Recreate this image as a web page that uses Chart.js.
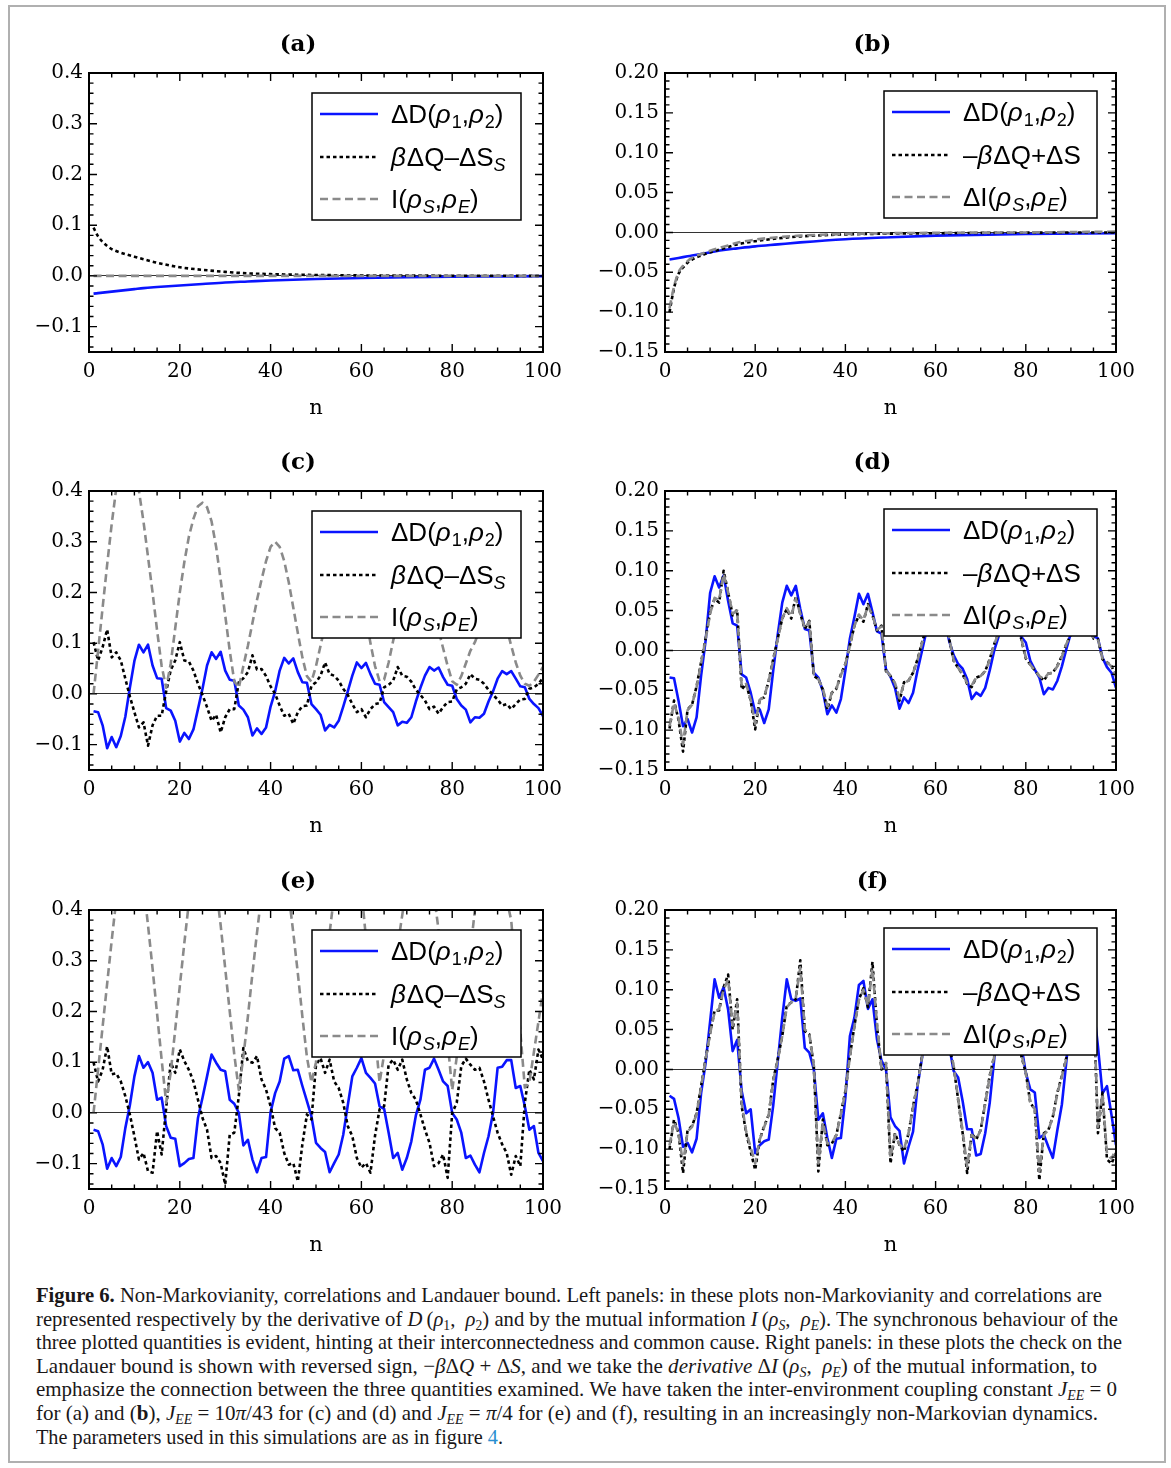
<!DOCTYPE html>
<html>
<head>
<meta charset="utf-8">
<script src="https://cdn.jsdelivr.net/npm/chart.js@4.4.1/dist/chart.umd.min.js"></script>
<style>
  body { margin: 0; background: #fff; width: 1171px; height: 1468px; position: relative; overflow: hidden; }
  .page-frame { position: absolute; left: 8px; top: 5px; width: 1158px; height: 1458px; border: 2px solid #b0b0b0; box-sizing: border-box; }
  canvas { position: absolute; }
  #caption { position: absolute; left: 36px; top: 1284px; font-family: "Liberation Serif", serif; font-size: 21px; line-height: 23.6px; color: #1a1718; }
  #caption .ln { height: 23.6px; white-space: nowrap; }
  #caption .ln span.fit { display: inline-block; white-space: nowrap; transform-origin: 0 50%; }
  #caption sub { font-size: 0.66em; vertical-align: -0.28em; line-height: 0; }
  #caption .link { color: #2a8fd0; }
</style>
</head>
<body>
<div class="page-frame"></div>
<canvas id="pa" width="590" height="428" style="left:0;top:0"></canvas>
<canvas id="pb" width="581" height="428" style="left:590px;top:0"></canvas>
<canvas id="pc" width="590" height="428" style="left:0;top:418px"></canvas>
<canvas id="pd" width="581" height="428" style="left:590px;top:418px"></canvas>
<canvas id="pe" width="590" height="428" style="left:0;top:837px"></canvas>
<canvas id="pf" width="581" height="428" style="left:590px;top:837px"></canvas>

<div id="caption">
  <div class="ln"><span class="fit" data-w="1066"><b>Figure 6.</b> Non-Markovianity, correlations and Landauer bound. Left panels: in these plots non-Markovianity and correlations are</span></div>
  <div class="ln"><span class="fit" data-w="1082">represented respectively by the derivative of <i>D</i>&#8201;(<i>ρ</i><sub>1</sub>,&#8194;<i>ρ</i><sub>2</sub>) and by the mutual information <i>I</i>&#8201;(<i>ρ</i><sub><i>S</i></sub>,&#8194;<i>ρ</i><sub><i>E</i></sub>). The synchronous behaviour of the</span></div>
  <div class="ln"><span class="fit" data-w="1086">three plotted quantities is evident, hinting at their interconnectedness and common cause. Right panels: in these plots the check on the</span></div>
  <div class="ln"><span class="fit" data-w="1061">Landauer bound is shown with reversed sign, &#8722;<i>β</i>Δ<i>Q</i> + Δ<i>S</i>, and we take the <i>derivative</i> Δ<i>I</i>&#8201;(<i>ρ</i><sub><i>S</i></sub>,&#8194;<i>ρ</i><sub><i>E</i></sub>) of the mutual information, to</span></div>
  <div class="ln"><span class="fit" data-w="1081">emphasize the connection between the three quantities examined. We have taken the inter-environment coupling constant <i>J</i><sub><i>EE</i></sub> = 0</span></div>
  <div class="ln"><span class="fit" data-w="1062">for (a) and (<b>b</b>), <i>J</i><sub><i>EE</i></sub> = 10<i>π</i>/43 for (c) and (d) and <i>J</i><sub><i>EE</i></sub> = <i>π</i>/4 for (e) and (f), resulting in an increasingly non-Markovian dynamics.</span></div>
  <div class="ln"><span class="fit" data-w="467">The parameters used in this simulations are as in figure <span class="link">4</span>.</span></div>
</div>

<script>
// ---- axis ticks ----
const xTicks = [0, 20, 40, 60, 80, 100];
const xTickLabels = ['0', '20', '40', '60', '80', '100'];
const leftYTicks = [-0.1, 0, 0.1, 0.2, 0.3, 0.4];
const leftYLabels = ['\u22120.1', '0.0', '0.1', '0.2', '0.3', '0.4'];
const rightYTicks = [-0.15, -0.1, -0.05, 0, 0.05, 0.1, 0.15, 0.2];
const rightYLabels = ['\u22120.15', '\u22120.10', '\u22120.05', '0.00', '0.05', '0.10', '0.15', '0.20'];

// step index n for the oscillating panels
const nSteps = Array.from({length: 100}, (_, i) => i + 1);

// ---- (a) J_EE = 0 ----
const aN = [1, 2, 3, 4, 5, 6, 8, 10, 12, 15, 20, 25, 30, 35, 40, 50, 60, 70, 80, 90, 100];
const aDistance = [-0.035, -0.034, -0.033, -0.032, -0.031, -0.030, -0.028, -0.026, -0.024, -0.022, -0.019, -0.016, -0.013, -0.011, -0.009, -0.006, -0.004, -0.0025, -0.0015, -0.001, -0.0005];
const aLandauer = [0.095, 0.078, 0.067, 0.059, 0.053, 0.049, 0.043, 0.038, 0.033, 0.026, 0.017, 0.012, 0.008, 0.005, 0.0035, 0.0018, 0.001, 0.0006, 0.0004, 0.0002, 0.0001];
const aMutual = [0, 0, 0, 0, 0, 0, 0, 0, 0, 0, 0, 0, 0, 0, 0, 0, 0, 0, 0, 0, 0];

// ---- (b) J_EE = 0 ----
const bN = [1, 2, 3, 4, 5, 6, 8, 10, 13, 16, 20, 25, 30, 40, 50, 60, 80, 100];
const bDistance = [-0.034, -0.033, -0.032, -0.031, -0.030, -0.029, -0.027, -0.025, -0.022, -0.020, -0.0175, -0.015, -0.0125, -0.0085, -0.006, -0.004, -0.002, -0.001];
const bLandauer = [-0.100, -0.070, -0.052, -0.044, -0.038, -0.034, -0.029, -0.025, -0.020, -0.015, -0.011, -0.0075, -0.005, -0.0025, -0.0015, -0.001, -0.0003, 0.0];
const bMutual = [-0.095, -0.068, -0.050, -0.042, -0.036, -0.032, -0.027, -0.023, -0.018, -0.013, -0.009, -0.006, -0.004, -0.002, -0.001, -0.0005, 0.0, 0.001];

// ---- (c) J_EE = 10pi/43 ----
const cDistance = [-0.034, -0.036, -0.062, -0.107, -0.085, -0.105, -0.083, -0.045, 0.012, 0.065,
  0.097, 0.082, 0.097, 0.056, 0.031, 0.030, -0.028, -0.033, -0.053, -0.094,
  -0.077, -0.089, -0.070, -0.030, 0.010, 0.056, 0.082, 0.069, 0.083, 0.046,
  0.028, 0.026, -0.023, -0.031, -0.046, -0.082, -0.068, -0.079, -0.066, -0.025,
  0.005, 0.046, 0.071, 0.060, 0.070, 0.043, 0.023, 0.022, -0.020, -0.030,
  -0.041, -0.072, -0.061, -0.066, -0.053, -0.025, 0.005, 0.036, 0.062, 0.051,
  0.061, 0.039, 0.020, 0.018, -0.016, -0.026, -0.036, -0.062, -0.055, -0.057,
  -0.046, -0.015, 0.012, 0.036, 0.053, 0.046, 0.052, 0.033, 0.018, 0.016,
  -0.010, -0.023, -0.031, -0.056, -0.046, -0.047, -0.039, -0.015, 0.005, 0.030,
  0.045, 0.039, 0.045, 0.030, 0.015, 0.013, -0.010, -0.020, -0.028, -0.044];
const cLandauer = [0.102, 0.066, 0.092, 0.127, 0.072, 0.082, 0.066, 0.030, -0.005, -0.036,
  -0.066, -0.056, -0.102, -0.062, -0.043, -0.043, 0.005, 0.047, 0.066, 0.102,
  0.066, 0.064, 0.046, 0.020, -0.002, -0.026, -0.053, -0.041, -0.076, -0.046,
  -0.030, -0.030, 0.023, 0.031, 0.043, 0.076, 0.048, 0.049, 0.035, 0.015,
  0.000, -0.023, -0.043, -0.039, -0.059, -0.036, -0.024, -0.023, 0.016, 0.023,
  0.036, 0.062, 0.039, 0.036, 0.026, 0.010, -0.002, -0.020, -0.036, -0.030,
  -0.046, -0.030, -0.020, -0.018, 0.013, 0.018, 0.026, 0.053, 0.036, 0.034,
  0.024, 0.008, -0.002, -0.013, -0.030, -0.025, -0.039, -0.026, -0.016, -0.015,
  0.009, 0.013, 0.020, 0.039, 0.030, 0.028, 0.020, 0.008, -0.002, -0.011,
  -0.023, -0.020, -0.030, -0.020, -0.011, -0.010, 0.010, 0.013, 0.020, 0.031];
const cMutual = [0.000, 0.085, 0.170, 0.255, 0.335, 0.405, 0.450, 0.470, 0.465, 0.440,
  0.400, 0.340, 0.270, 0.200, 0.125, 0.055, 0.012, 0.060, 0.130, 0.200,
  0.260, 0.310, 0.345, 0.370, 0.377, 0.368, 0.340, 0.290, 0.225, 0.155,
  0.085, 0.025, 0.012, 0.055, 0.095, 0.140, 0.185, 0.225, 0.262, 0.290,
  0.300, 0.290, 0.262, 0.220, 0.170, 0.120, 0.072, 0.035, 0.024, 0.055,
  0.095, 0.135, 0.170, 0.200, 0.222, 0.238, 0.245, 0.240, 0.222, 0.192,
  0.150, 0.100, 0.055, 0.025, 0.028, 0.062, 0.105, 0.140, 0.168, 0.188,
  0.200, 0.206, 0.205, 0.198, 0.185, 0.160, 0.125, 0.090, 0.055, 0.025,
  0.018, 0.035, 0.060, 0.085, 0.102, 0.125, 0.145, 0.160, 0.168, 0.166,
  0.155, 0.130, 0.095, 0.062, 0.036, 0.020, 0.016, 0.024, 0.038, 0.053];

// ---- (d) J_EE = 10pi/43 ----
const dDistance = [-0.034, -0.035, -0.063, -0.095, -0.086, -0.103, -0.084, -0.032, 0.012, 0.072,
  0.093, 0.079, 0.094, 0.062, 0.034, 0.031, -0.030, -0.034, -0.053, -0.078,
  -0.074, -0.091, -0.074, -0.025, 0.020, 0.060, 0.081, 0.069, 0.081, 0.052,
  0.027, 0.025, -0.028, -0.034, -0.051, -0.080, -0.069, -0.078, -0.061, -0.025,
  0.015, 0.042, 0.071, 0.058, 0.071, 0.048, 0.024, 0.021, -0.024, -0.033,
  -0.047, -0.073, -0.059, -0.066, -0.053, -0.025, 0.000, 0.025, 0.058, 0.052,
  0.060, 0.040, 0.012, -0.006, -0.017, -0.023, -0.036, -0.061, -0.053, -0.057,
  -0.047, -0.025, 0.000, 0.018, 0.052, 0.045, 0.053, 0.032, 0.017, 0.010,
  -0.013, -0.024, -0.034, -0.055, -0.047, -0.049, -0.038, -0.020, 0.002, 0.022,
  0.045, 0.040, 0.045, 0.030, 0.018, 0.015, -0.009, -0.021, -0.028, -0.047];
const dLandauer = [-0.098, -0.063, -0.087, -0.127, -0.074, -0.068, -0.045, -0.015, 0.015, 0.048,
  0.065, 0.060, 0.100, 0.073, 0.044, 0.051, -0.049, -0.042, -0.063, -0.099,
  -0.061, -0.059, -0.038, -0.011, 0.015, 0.040, 0.052, 0.040, 0.068, 0.046,
  0.027, 0.037, -0.032, -0.036, -0.049, -0.074, -0.053, -0.048, -0.030, -0.017,
  0.006, 0.031, 0.044, 0.036, 0.058, 0.044, 0.025, 0.031, -0.026, -0.032,
  -0.042, -0.063, -0.040, -0.038, -0.028, -0.011, 0.010, 0.030, 0.045, 0.040,
  0.055, 0.040, 0.015, -0.013, -0.022, -0.030, -0.042, -0.046, -0.034, -0.032,
  -0.026, -0.011, 0.008, 0.022, 0.035, 0.032, 0.045, 0.035, 0.014, -0.010,
  -0.018, -0.025, -0.032, -0.038, -0.029, -0.028, -0.019, -0.007, 0.008, 0.020,
  0.032, 0.030, 0.040, 0.030, 0.015, 0.014, -0.011, -0.015, -0.019, -0.034];
const dMutual = [-0.095, -0.066, -0.085, -0.118, -0.075, -0.068, -0.046, -0.016, 0.014, 0.046,
  0.066, 0.063, 0.096, 0.073, 0.046, 0.050, -0.045, -0.042, -0.062, -0.092,
  -0.062, -0.058, -0.038, -0.012, 0.014, 0.040, 0.053, 0.043, 0.065, 0.046,
  0.028, 0.036, -0.030, -0.036, -0.048, -0.070, -0.053, -0.048, -0.031, -0.017,
  0.006, 0.031, 0.045, 0.038, 0.056, 0.044, 0.026, 0.030, -0.025, -0.032,
  -0.041, -0.060, -0.041, -0.038, -0.028, -0.012, 0.009, 0.030, 0.045, 0.041,
  0.053, 0.040, 0.016, -0.012, -0.022, -0.029, -0.041, -0.044, -0.034, -0.032,
  -0.026, -0.012, 0.008, 0.022, 0.035, 0.033, 0.044, 0.035, 0.015, -0.009,
  -0.018, -0.025, -0.032, -0.036, -0.029, -0.028, -0.020, -0.008, 0.008, 0.020,
  0.032, 0.031, 0.039, 0.030, 0.016, 0.014, -0.010, -0.015, -0.020, -0.033];

// ---- (e) J_EE = pi/4 ----
const eDistance = [-0.033, -0.036, -0.062, -0.110, -0.089, -0.105, -0.087, -0.030, 0.015, 0.072,
  0.112, 0.089, 0.100, 0.079, 0.026, 0.030, -0.026, -0.049, -0.051, -0.105,
  -0.099, -0.091, -0.089, -0.010, 0.030, 0.072, 0.115, 0.099, 0.085, 0.082,
  0.026, 0.018, 0.000, -0.064, -0.053, -0.092, -0.117, -0.089, -0.087, 0.002,
  0.039, 0.062, 0.107, 0.112, 0.084, 0.085, 0.053, 0.023, -0.007, -0.059,
  -0.069, -0.077, -0.117, -0.099, -0.082, -0.043, 0.015, 0.072, 0.089, 0.108,
  0.079, 0.069, 0.058, 0.013, 0.008, -0.039, -0.089, -0.079, -0.112, -0.089,
  -0.056, -0.005, 0.026, 0.085, 0.089, 0.107, 0.085, 0.062, 0.053, 0.000,
  -0.013, -0.039, -0.089, -0.084, -0.102, -0.117, -0.079, -0.046, 0.000, 0.089,
  0.091, 0.104, 0.104, 0.049, 0.053, 0.013, -0.033, -0.026, -0.079, -0.095];
const eLandauer = [0.100, 0.062, 0.085, 0.131, 0.076, 0.078, 0.062, 0.033, -0.003, -0.046,
  -0.092, -0.079, -0.115, -0.118, -0.036, -0.082, 0.010, 0.099, 0.079, 0.125,
  0.102, 0.085, 0.062, 0.026, -0.010, -0.033, -0.089, -0.085, -0.099, -0.141,
  -0.043, -0.039, 0.033, 0.128, 0.102, 0.099, 0.112, 0.066, 0.046, 0.013,
  -0.030, -0.039, -0.079, -0.102, -0.099, -0.135, -0.062, -0.003, -0.013, 0.095,
  0.108, 0.079, 0.105, 0.062, 0.049, 0.020, -0.026, -0.046, -0.089, -0.108,
  -0.099, -0.118, -0.045, 0.007, 0.013, 0.095, 0.105, 0.085, 0.105, 0.066,
  0.039, 0.026, -0.003, -0.033, -0.059, -0.105, -0.099, -0.082, -0.128, 0.000,
  0.020, 0.092, 0.107, 0.095, 0.085, 0.089, 0.062, 0.026, -0.007, -0.039,
  -0.062, -0.079, -0.122, -0.085, -0.105, 0.020, 0.085, 0.066, 0.125, 0.105];
const eMutual = [0.000, 0.085, 0.170, 0.255, 0.340, 0.420, 0.490, 0.540, 0.560, 0.550,
  0.510, 0.450, 0.370, 0.285, 0.195, 0.105, 0.020, 0.080, 0.165, 0.250,
  0.335, 0.415, 0.485, 0.535, 0.560, 0.550, 0.510, 0.445, 0.370, 0.285,
  0.200, 0.115, 0.045, 0.110, 0.190, 0.275, 0.355, 0.430, 0.495, 0.540,
  0.555, 0.540, 0.495, 0.430, 0.355, 0.275, 0.190, 0.110, 0.060, 0.100,
  0.185, 0.270, 0.355, 0.430, 0.490, 0.530, 0.545, 0.535, 0.500, 0.440,
  0.345, 0.250, 0.155, 0.060, 0.115, 0.190, 0.260, 0.330, 0.390, 0.450,
  0.500, 0.530, 0.540, 0.520, 0.470, 0.430, 0.360, 0.250, 0.140, 0.045,
  0.110, 0.170, 0.240, 0.320, 0.400, 0.460, 0.510, 0.540, 0.550, 0.530,
  0.480, 0.420, 0.380, 0.270, 0.160, 0.050, 0.060, 0.120, 0.180, 0.240];

// ---- (f) J_EE = pi/4 ----
const fDistance = [-0.033, -0.037, -0.061, -0.097, -0.092, -0.104, -0.087, -0.030, 0.008, 0.060,
  0.113, 0.090, 0.103, 0.075, 0.023, 0.037, -0.027, -0.055, -0.050, -0.105,
  -0.095, -0.090, -0.088, -0.045, 0.010, 0.065, 0.113, 0.088, 0.086, 0.089,
  0.027, 0.021, 0.000, -0.063, -0.055, -0.086, -0.111, -0.087, -0.086, -0.035,
  0.042, 0.065, 0.106, 0.111, 0.076, 0.088, 0.038, 0.011, 0.000, -0.060,
  -0.071, -0.077, -0.118, -0.097, -0.078, -0.021, 0.015, 0.060, 0.090, 0.105,
  0.085, 0.070, 0.030, -0.002, -0.010, -0.040, -0.075, -0.075, -0.108, -0.106,
  -0.080, -0.042, 0.013, 0.070, 0.090, 0.105, 0.090, 0.070, 0.030, -0.004,
  -0.025, -0.029, -0.086, -0.082, -0.097, -0.111, -0.076, -0.044, 0.010, 0.070,
  0.085, 0.100, 0.100, 0.085, 0.080, 0.029, -0.030, -0.021, -0.057, -0.095];
const fLandauer = [-0.100, -0.063, -0.080, -0.130, -0.076, -0.071, -0.055, -0.021, 0.013, 0.046,
  0.074, 0.074, 0.103, 0.119, 0.050, 0.088, -0.046, -0.080, -0.103, -0.126,
  -0.088, -0.071, -0.057, -0.013, 0.013, 0.042, 0.080, 0.084, 0.088, 0.137,
  0.048, 0.044, 0.004, -0.128, -0.063, -0.095, -0.093, -0.082, -0.055, -0.027,
  0.017, 0.055, 0.088, 0.102, 0.078, 0.135, 0.055, 0.000, 0.008, -0.118,
  -0.080, -0.095, -0.103, -0.080, -0.046, -0.019, 0.017, 0.050, 0.080, 0.095,
  0.090, 0.130, 0.029, 0.004, -0.038, -0.080, -0.130, -0.080, -0.088, -0.076,
  -0.042, -0.008, 0.017, 0.050, 0.080, 0.090, 0.095, 0.125, 0.017, -0.004,
  -0.042, -0.050, -0.139, -0.080, -0.076, -0.059, -0.029, -0.008, 0.015, 0.050,
  0.075, 0.085, 0.090, 0.110, 0.090, -0.080, -0.029, -0.113, -0.118, -0.105];
const fMutual = [-0.095, -0.066, -0.080, -0.118, -0.078, -0.072, -0.056, -0.022, 0.012, 0.045,
  0.072, 0.076, 0.100, 0.113, 0.055, 0.083, -0.042, -0.078, -0.098, -0.118,
  -0.088, -0.072, -0.057, -0.014, 0.012, 0.042, 0.078, 0.084, 0.090, 0.128,
  0.050, 0.045, 0.005, -0.118, -0.066, -0.093, -0.092, -0.082, -0.056, -0.028,
  0.016, 0.054, 0.087, 0.100, 0.080, 0.126, 0.057, 0.002, 0.008, -0.110,
  -0.082, -0.094, -0.100, -0.080, -0.047, -0.020, 0.016, 0.050, 0.078, 0.093,
  0.090, 0.122, 0.032, 0.005, -0.037, -0.078, -0.122, -0.082, -0.088, -0.076,
  -0.043, -0.009, 0.016, 0.050, 0.078, 0.090, 0.094, 0.118, 0.020, -0.004,
  -0.041, -0.050, -0.128, -0.082, -0.076, -0.060, -0.030, -0.009, 0.014, 0.050,
  0.074, 0.085, 0.090, 0.105, 0.088, -0.072, -0.031, -0.106, -0.112, -0.100];

// ---- legend labels (rich text segments) ----
const legDistance = [{t: 'ΔD('}, {t: 'ρ', it: 1}, {t: '1', sub: 1}, {t: ','}, {t: 'ρ', it: 1}, {t: '2', sub: 1}, {t: ')'}];
const legLandauerLeft = [{t: 'β', it: 1}, {t: 'ΔQ–ΔS'}, {t: 'S', sub: 1, it: 1}];
const legMutualLeft = [{t: 'I('}, {t: 'ρ', it: 1}, {t: 'S', sub: 1, it: 1}, {t: ','}, {t: 'ρ', it: 1}, {t: 'E', sub: 1, it: 1}, {t: ')'}];
const legLandauerRight = [{t: '–'}, {t: 'β', it: 1}, {t: 'ΔQ+ΔS'}];
const legMutualRight = [{t: 'ΔI('}, {t: 'ρ', it: 1}, {t: 'S', sub: 1, it: 1}, {t: ','}, {t: 'ρ', it: 1}, {t: 'E', sub: 1, it: 1}, {t: ')'}];

const BLUE = '#0a14ff';
const BLACK = '#000000';
const GRAY = '#8a8a8a';
const serif = '"DejaVu Serif", serif';
const sans = '"Liberation Sans", Arial, sans-serif';

function drawRich(ctx, segs, x, y, size) {
  for (const s of segs) {
    const fs = s.sub ? Math.round(size * 0.68) : size;
    ctx.font = (s.it ? 'italic ' : '') + fs + 'px ' + sans;
    ctx.fillText(s.t, x, s.sub ? y + size * 0.2 : y);
    x += ctx.measureText(s.t).width + (s.it && !s.sub ? 1 : 0);
  }
}

// frame with inward ticks on all four sides, plus the panel title
const framePlugin = {
  id: 'frame',
  afterDatasetsDraw(chart, args, opts) {
    const {ctx, chartArea: a, scales: {x, y}} = chart;
    ctx.save();
    ctx.strokeStyle = '#000';
    ctx.lineWidth = 1.4;
    ctx.beginPath();
    for (let k = 0; k <= 20; k++) {
      const px = x.getPixelForValue(k * 5);
      const len = k % 4 === 0 ? 8 : 4.5;
      ctx.moveTo(px, a.bottom); ctx.lineTo(px, a.bottom - len);
      ctx.moveTo(px, a.top); ctx.lineTo(px, a.top + len);
    }
    const kMin = Math.ceil(y.min / opts.minorStep - 1e-6);
    const kMax = Math.floor(y.max / opts.minorStep + 1e-6);
    for (let k = kMin; k <= kMax; k++) {
      const py = y.getPixelForValue(k * opts.minorStep);
      const len = k % 5 === 0 ? 8 : 4.5;
      ctx.moveTo(a.left, py); ctx.lineTo(a.left + len, py);
      ctx.moveTo(a.right, py); ctx.lineTo(a.right - len, py);
    }
    ctx.stroke();
    ctx.lineWidth = 2;
    ctx.strokeRect(a.left, a.top, a.right - a.left, a.bottom - a.top);
    ctx.fillStyle = '#000';
    ctx.font = 'bold 23px ' + serif;
    ctx.textAlign = 'center';
    ctx.textBaseline = 'middle';
    ctx.fillText(opts.title, (a.left + a.right) / 2 - 18, a.top - 28);
    ctx.restore();
  }
};

// boxed legend drawn over the curves
const boxLegendPlugin = {
  id: 'boxLegend',
  afterDatasetsDraw(chart, args, opts) {
    const {ctx, chartArea: a} = chart;
    const bx = a.left + opts.dx, by = a.top + opts.dy;
    ctx.save();
    ctx.fillStyle = '#fff';
    ctx.fillRect(bx, by, opts.w, 127);
    ctx.strokeStyle = '#000';
    ctx.lineWidth = 1.5;
    ctx.strokeRect(bx, by, opts.w, 127);
    const lineY = [21, 64, 106];
    const textY = [30, 73, 115];
    chart.data.datasets.forEach((ds, i) => {
      ctx.strokeStyle = ds.borderColor;
      ctx.lineWidth = ds.borderWidth;
      ctx.setLineDash(ds.borderDash || []);
      ctx.beginPath();
      ctx.moveTo(bx + 8, by + lineY[i]);
      ctx.lineTo(bx + 66, by + lineY[i]);
      ctx.stroke();
      ctx.setLineDash([]);
      ctx.fillStyle = '#000';
      ctx.textBaseline = 'alphabetic';
      ctx.textAlign = 'left';
      drawRich(ctx, opts.labels[i], bx + 79, by + textY[i], 26);
    });
    ctx.restore();
  }
};

function makePanel(id, side, title, xs, series, labels, smooth) {
  const left = side === 'left';
  const yTicks = left ? leftYTicks : rightYTicks;
  const yLabels = left ? leftYLabels : rightYLabels;
  const styles = [
    {color: BLUE, dash: [], order: 2},
    {color: BLACK, dash: [3.5, 3], order: 1},
    {color: GRAY, dash: [8, 4.5], order: 0}
  ];
  new Chart(document.getElementById(id), {
    type: 'line',
    data: {
      datasets: series.map((vals, i) => ({
        data: vals.map((v, j) => ({x: xs[j], y: v})),
        borderColor: styles[i].color,
        borderWidth: 2.6,
        borderDash: styles[i].dash,
        order: styles[i].order,
        pointRadius: 0,
        fill: false,
        cubicInterpolationMode: smooth ? 'monotone' : 'default',
        tension: 0,
        borderCapStyle: 'butt',
        borderJoinStyle: 'round'
      }))
    },
    options: {
      responsive: false,
      animation: false,
      layout: {padding: {left: 0, right: left ? 47 : 55, top: 73, bottom: 0}},
      plugins: {
        legend: {display: false},
        tooltip: {enabled: false},
        frame: {title: title, minorStep: left ? 0.02 : 0.01},
        boxLegend: {dx: left ? 223 : 219, dy: left ? 20 : 18, w: left ? 209 : 213, labels: labels}
      },
      scales: {
        x: {
          type: 'linear', min: 0, max: 100,
          afterBuildTicks: s => { s.ticks = xTicks.map(v => ({value: v})); },
          afterFit: s => { s.height = 76; },
          grid: {display: false, drawTicks: false},
          border: {display: false},
          ticks: {color: '#000', font: {family: serif, size: 20}, padding: 8, maxRotation: 0,
                  callback: (v, i) => xTickLabels[i]},
          title: {display: true, text: 'n', color: '#000', font: {family: serif, size: 21}, padding: {top: 0, bottom: 7}}
        },
        y: {
          type: 'linear', min: -0.15, max: left ? 0.4 : 0.2,
          afterBuildTicks: s => { s.ticks = yTicks.map(v => ({value: v})); },
          afterFit: s => { s.width = left ? 89 : 75; },
          grid: {drawTicks: false, lineWidth: 1,
                 color: c => (c.tick && Math.abs(c.tick.value) < 1e-9) ? '#333' : 'rgba(0,0,0,0)'},
          border: {display: false},
          ticks: {color: '#000', font: {family: serif, size: 20}, padding: 6,
                  callback: (v, i) => yLabels[i]}
        }
      }
    },
    plugins: [framePlugin, boxLegendPlugin]
  });
}

makePanel('pa', 'left', '(a)', aN, [aDistance, aLandauer, aMutual], [legDistance, legLandauerLeft, legMutualLeft], true);
makePanel('pb', 'right', '(b)', bN, [bDistance, bLandauer, bMutual], [legDistance, legLandauerRight, legMutualRight], true);
makePanel('pc', 'left', '(c)', nSteps, [cDistance, cLandauer, cMutual], [legDistance, legLandauerLeft, legMutualLeft], false);
makePanel('pd', 'right', '(d)', nSteps, [dDistance, dLandauer, dMutual], [legDistance, legLandauerRight, legMutualRight], false);
makePanel('pe', 'left', '(e)', nSteps, [eDistance, eLandauer, eMutual], [legDistance, legLandauerLeft, legMutualLeft], false);
makePanel('pf', 'right', '(f)', nSteps, [fDistance, fLandauer, fMutual], [legDistance, legLandauerRight, legMutualRight], false);

// squeeze each caption line to the width it has in the printed figure
function fitCaption() {
  document.querySelectorAll('#caption .fit').forEach(el => {
    el.style.transform = 'none';
    const w = el.getBoundingClientRect().width;
    el.style.transform = 'scaleX(' + (Number(el.dataset.w) / w) + ')';
  });
}
fitCaption();
if (document.fonts) document.fonts.ready.then(fitCaption);
</script>
</body>
</html>
